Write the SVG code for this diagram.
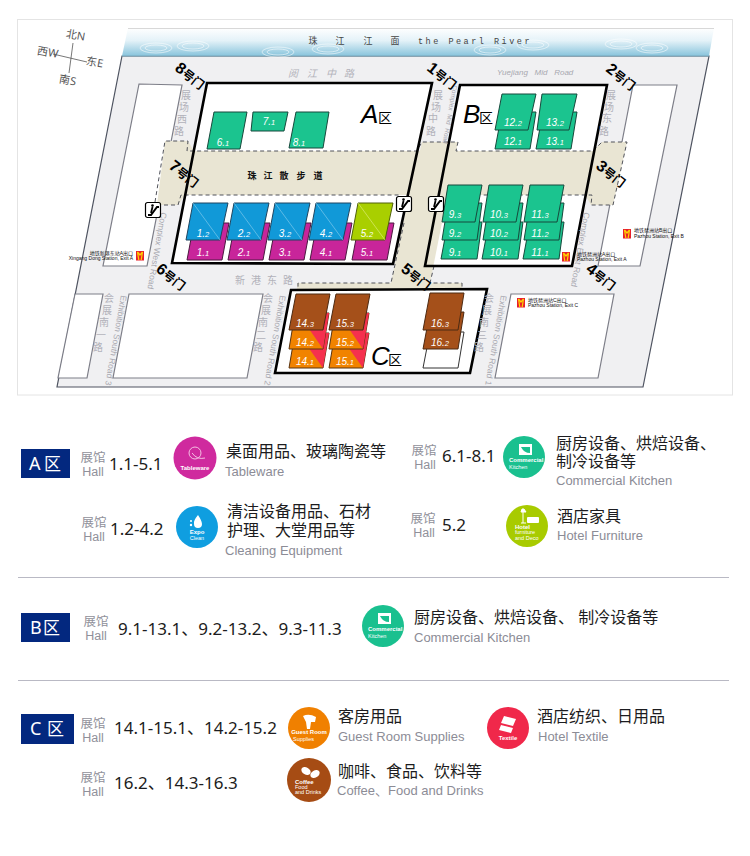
<svg xmlns="http://www.w3.org/2000/svg" xmlns:xlink="http://www.w3.org/1999/xlink" width="750" height="856" viewBox="0 0 750 856">
<style>
text{font-family:"Noto Sans","Noto Sans CJK SC",sans-serif}
.site{fill:#f0f0f2;stroke:#4e5360;stroke-width:1.2}
.blk{fill:#fff;stroke:#7d7e88;stroke-width:1.2}
.bg{fill:#e9e5d3}
.dash{fill:none;stroke:#50525a;stroke-width:1;stroke-dasharray:4 3}
.hall{fill:none;stroke:#000;stroke-width:2.6;stroke-linejoin:miter}
.hf{fill:#fff}
.g{fill:#1bc48f;stroke:#17493c;stroke-width:1}
.b{fill:#1199d8;stroke:#1f4560;stroke-width:1}
.m{fill:#c8259a;stroke:#4c1a40;stroke-width:1}
.l{fill:#a9cf00;stroke:#50600c;stroke-width:1}
.br{fill:#a5501a;stroke:#4d2a12;stroke-width:1}
.o{fill:#f18300;stroke:#5a3410;stroke-width:1}
.r{fill:#f5304e}
.w{fill:#fff;stroke:#333;stroke-width:1}
.diag{stroke:#8fd0ee;stroke-width:.6}
text.bl{font:italic 10px "Liberation Sans",sans-serif;fill:#fff;text-anchor:middle}
.s{font-size:7.5px}
.gate{font-weight:700;fill:#000;text-anchor:middle;font-size:16px;font-family:"Liberation Sans","Noto Sans CJK SC",sans-serif}
.gate tspan{font-size:12px}
.rd{fill:#b2b2ba;font-size:10px;text-anchor:middle}
.rde{fill:#a8a8b0;font:8.5px "Liberation Sans",sans-serif}
.st{fill:#111;font-size:5px;font-family:"Liberation Sans","Noto Sans CJK SC",sans-serif}
.cmp{fill:#555;font-size:11px;text-anchor:middle}
.rv{fill:#444;font-size:9px}
.wk{fill:#111;font-size:9px;font-weight:700;text-anchor:middle}
.tt{font-style:italic;fill:#000;font-family:"Liberation Sans",sans-serif;font-size:26px}
.tz{fill:#000;font-size:14px}
.zb{fill:#03287f}
.zt{fill:#fff;font-size:18px}
.zc{fill:#fff;font-size:17px}
.hc{fill:#90909a;font-size:12.5px;text-anchor:middle}
.he{fill:#90909a;font-size:12.5px;text-anchor:middle;font-family:"Liberation Sans",sans-serif}
.num{fill:#1c1c20;font-size:17px}
.cn{fill:#1c1c20;font-size:16px}
.en{fill:#8c8c96;font-size:13px;font-family:"Liberation Sans","Noto Sans CJK SC",sans-serif}
.ic{fill:#fff;font-family:"Liberation Sans",sans-serif;font-size:6px;font-weight:700}
.in{fill:#fff;font-family:"Liberation Sans",sans-serif;font-size:5.5px}
.div{stroke:#b9b9c4;stroke-width:1}
</style>
<defs>
<linearGradient id="rg" x1="0" y1="0" x2="0" y2="1"><stop offset="0" stop-color="#fff"/><stop offset=".45" stop-color="#e4f2f8"/><stop offset="1" stop-color="#88c4dc"/></linearGradient>
<g id="esc"><rect x=".5" y=".5" width="15" height="15" rx="2" fill="#fff" stroke="#000" stroke-width="1.2"/><path d="M3 13 L6 13 L12 5 L14 5" fill="none" stroke="#000" stroke-width="2"/><circle cx="7.5" cy="3.6" r="1.3" fill="#000"/><path d="M7.5 5 L6 11" stroke="#000" stroke-width="1.8"/></g>
<g id="met"><rect width="8" height="9.500" fill="#e8202a"/><path d="M1.500 1 L2.800 9 M6.500 1 L5.200 9 M1.500 1 L4 4 L6.500 1" fill="none" stroke="#ffd400" stroke-width="1.200"/></g>
<g id="rng"><ellipse rx="16" ry="5" fill="none" stroke="#fff" stroke-opacity=".55"/><ellipse rx="11" ry="3" fill="none" stroke="#fff" stroke-opacity=".55"/></g>
</defs>
<rect width="750" height="856" fill="#fff"/>
<rect x="17.500" y="19.500" width="715" height="375.500" fill="#fff" stroke="#e4e4e4"/>
<g id="site">
<polygon class="site" points="122,56 709,56 643,387 57,387"/>
<polygon points="128,28 714,28 709,56 122,56" fill="url(#rg)"/>
<path d="M128 28.500H714" stroke="#d8d8d8"/>
<path d="M122 56H709" stroke="#78a8bc"/>
<use xlink:href="#rng" x="156" y="48"/><use xlink:href="#rng" x="193" y="46"/><use xlink:href="#rng" x="278" y="52"/><use xlink:href="#rng" x="328" y="49"/><use xlink:href="#rng" x="490" y="50"/><use xlink:href="#rng" x="533" y="45"/><use xlink:href="#rng" x="621" y="44"/><use xlink:href="#rng" x="652" y="48"/>
<text class="rv" x="313" y="44" text-anchor="middle">珠</text><text class="rv" x="340" y="44" text-anchor="middle">江</text><text class="rv" x="368" y="44" text-anchor="middle">江</text><text class="rv" x="395" y="44" text-anchor="middle">面</text>
<text class="rv" x="418" y="44" letter-spacing="2.500" style="font-family:'Liberation Mono',monospace;font-size:8.500px">the Pearl River</text>
<polygon class="blk" points="139,84 182,85 147,266 103,266"/>
<polygon class="blk" points="633,85 677,85 640,266 598,266"/>
<polygon class="blk" points="75,294 103,294 87,378 58,378"/>
<polygon class="blk" points="129,294 263,294 247,378 113,378"/>
<polygon class="blk" points="511,294 614,294 598,378 495,378"/>
</g>
<g id="walkway">
<polygon class="hf" points="207,83 432,83 393,264 172,263"/>
<polygon class="hf" points="460,85 607,85 572,266 425,266"/>
<polygon class="hf" points="291,290 487,289 470,373 275,373"/>
<polygon class="bg" points="165,141 188,141 194,151 185,195 178,205 157,205"/>
<polygon class="bg" points="602,142 627,142 613,205 591,205 585,195 593,151"/>
<polygon class="bg" points="187,151 594,151 586,195 180,195"/>
<polygon class="bg" points="422,142 458,142 430,283 391,283 403,223"/>
<polygon class="bg" points="297,283 462,283 462,290 297,290"/>
<path class="dash" d="M157 205H178L181 195H400M155 202L165 141H188L187 151H417L422 142H458L456 151H593L602 142H627L613 205H591L592 195H482M404 223L391 283H298V289M434 266L430 283H462V288"/>
</g>
<g id="booths">
<g id="hall-6-1"><polygon class="g" points="214,112 247,112 240,149 207,149"/><text class="bl" x="223" y="146">6.<tspan class="s">1</tspan></text></g>
<g id="hall-7-1"><polygon class="g" points="253,112 288,112 284,131 251,131"/><text class="bl" x="269" y="125">7.<tspan class="s">1</tspan></text></g>
<g id="hall-8-1"><polygon class="g" points="296,112 329,112 323,148 289,148"/><text class="bl" x="299" y="146">8.<tspan class="s">1</tspan></text></g>
<g id="hall-1"><polygon class="m" points="194,223 229,223 222,260 187,260"/><polygon class="b" points="193,203 228,203 220,240 186,240"/><line class="diag" x1="193" y1="203" x2="220" y2="240"/><text class="bl" x="203" y="237">1.<tspan class="s">2</tspan></text><text class="bl" x="203" y="256">1.<tspan class="s">1</tspan></text></g>
<g id="hall-2"><polygon class="m" points="235,223 270,223 263,260 228,260"/><polygon class="b" points="234,203 269,203 261,240 227,240"/><line class="diag" x1="234" y1="203" x2="261" y2="240"/><text class="bl" x="244" y="237">2.<tspan class="s">2</tspan></text><text class="bl" x="244" y="256">2.<tspan class="s">1</tspan></text></g>
<g id="hall-3"><polygon class="m" points="276,223 311,223 304,260 269,260"/><polygon class="b" points="275,203 310,203 302,240 268,240"/><line class="diag" x1="275" y1="203" x2="302" y2="240"/><text class="bl" x="285" y="237">3.<tspan class="s">2</tspan></text><text class="bl" x="285" y="256">3.<tspan class="s">1</tspan></text></g>
<g id="hall-4"><polygon class="m" points="317,223 352,223 345,260 310,260"/><polygon class="b" points="316,203 351,203 343,240 309,240"/><line class="diag" x1="316" y1="203" x2="343" y2="240"/><text class="bl" x="326" y="237">4.<tspan class="s">2</tspan></text><text class="bl" x="326" y="256">4.<tspan class="s">1</tspan></text></g>
<g id="hall-5"><polygon class="m" points="359,223 394,223 387,260 352,260"/><polygon class="l" points="358,203 393,203 385,240 351,240"/><line x1="358" y1="203" x2="385" y2="240" stroke="#e4f08a" stroke-width=".6"/><text class="bl" x="367" y="237">5.<tspan class="s">2</tspan></text><text class="bl" x="367" y="256">5.<tspan class="s">1</tspan></text></g>
<g id="hall-12"><polygon class="g" points="502,112 536,112 530,149 495,149"/><polygon class="g" points="502,94 536,94 528,130 495,130"/><text class="bl" x="513" y="126">12.<tspan class="s">2</tspan></text><text class="bl" x="513" y="145">12.<tspan class="s">1</tspan></text></g>
<g id="hall-13"><polygon class="g" points="543,112 577,112 571,149 536,149"/><polygon class="g" points="542,94 577,94 569,130 537,130"/><text class="bl" x="555" y="126">13.<tspan class="s">2</tspan></text><text class="bl" x="555" y="145">13.<tspan class="s">1</tspan></text></g>
<g id="hall-9"><polygon class="g" points="448,222 482,222 477,259 441,259"/><polygon class="g" points="448,203 482,203 477,240 442,240"/><polygon class="g" points="448,185 482,185 475,222 442,222"/><text class="bl" x="455" y="218">9.<tspan class="s">3</tspan></text><text class="bl" x="455" y="237">9.<tspan class="s">2</tspan></text><text class="bl" x="455" y="256">9.<tspan class="s">1</tspan></text></g>
<g id="hall-10"><polygon class="g" points="489,222 523,222 518,259 482,259"/><polygon class="g" points="489,203 523,203 518,240 483,240"/><polygon class="g" points="489,185 523,185 516,222 483,222"/><text class="bl" x="499" y="218">10.<tspan class="s">3</tspan></text><text class="bl" x="499" y="237">10.<tspan class="s">2</tspan></text><text class="bl" x="499" y="256">10.<tspan class="s">1</tspan></text></g>
<g id="hall-11"><polygon class="g" points="530,222 564,222 559,259 523,259"/><polygon class="g" points="530,203 564,203 559,240 524,240"/><polygon class="g" points="530,185 564,185 557,222 524,222"/><text class="bl" x="540" y="218">11.<tspan class="s">3</tspan></text><text class="bl" x="540" y="237">11.<tspan class="s">2</tspan></text><text class="bl" x="540" y="256">11.<tspan class="s">1</tspan></text></g>
<g id="hall-14"><polygon class="o" points="295,333 329,333 323,368 289,368"/><polygon class="r" points="298,333 329,333 323,368"/><polygon class="o" points="295,313 329,313 323,349 289,349"/><polygon class="r" points="298,313 329,313 323,349"/><polygon class="br" points="296,294 330,294 323,330 289,330"/><text class="bl" x="305" y="327">14.<tspan class="s">3</tspan></text><text class="bl" x="305" y="346">14.<tspan class="s">2</tspan></text><text class="bl" x="305" y="365">14.<tspan class="s">1</tspan></text></g>
<g id="hall-15"><polygon class="o" points="335,333 369,333 363,368 329,368"/><polygon class="r" points="338,333 369,333 363,368"/><polygon class="o" points="335,313 369,313 363,349 329,349"/><polygon class="r" points="338,313 369,313 363,349"/><polygon class="br" points="336,294 370,294 363,330 329,330"/><text class="bl" x="345" y="327">15.<tspan class="s">3</tspan></text><text class="bl" x="345" y="346">15.<tspan class="s">2</tspan></text><text class="bl" x="345" y="365">15.<tspan class="s">1</tspan></text></g>
<g id="hall-16"><polygon class="w" points="430,332 464,332 458,368 423,368"/><polygon class="br" points="430,312 464,312 458,349 423,349"/><polygon class="br" points="430,293 464,293 458,330 423,330"/><text class="bl" x="440" y="327">16.<tspan class="s">3</tspan></text><text class="bl" x="440" y="346">16.<tspan class="s">2</tspan></text></g>
</g>
<g id="halls">
<polygon class="hall" points="207,83 432,83 393,264 172,263"/>
<polygon class="hall" points="460,85 607,85 572,266 425,266"/>
<polygon class="hall" points="291,290 487,289 470,373 275,373"/>
<text class="tt" x="361" y="123">A</text><text class="tz" x="378" y="123">区</text>
<text class="tt" x="463" y="123">B</text><text class="tz" x="479" y="123">区</text>
<text class="tt" x="371" y="365">C</text><text class="tz" x="388" y="365">区</text>
<text class="wk" x="252" y="179">珠</text><text class="wk" x="268" y="179">江</text><text class="wk" x="284" y="179">散</text><text class="wk" x="301" y="179">步</text><text class="wk" x="318" y="179">道</text>
</g>
<g id="roads">
<text class="rd" x="293" y="77" font-style="italic">阅</text><text class="rd" x="312" y="77" font-style="italic">江</text><text class="rd" x="331" y="77" font-style="italic">中</text><text class="rd" x="349" y="77" font-style="italic">路</text>
<text class="rde" x="497" y="75" style="font-style:italic;font-size:8px" word-spacing="4.500">Yuejiang Mid Road</text>
<text class="rd" x="186" y="99">展</text><text class="rd" x="184" y="111">场</text><text class="rd" x="182" y="123">西</text><text class="rd" x="179" y="135">路</text>
<text class="rd" x="438" y="99">展</text><text class="rd" x="436" y="111">场</text><text class="rd" x="433" y="122">中</text><text class="rd" x="431" y="135">路</text>
<text class="rd" x="611" y="99">展</text><text class="rd" x="609" y="111">场</text><text class="rd" x="607" y="122">东</text><text class="rd" x="604" y="135">路</text>
<text class="rd" x="240" y="284">新</text><text class="rd" x="256" y="284">港</text><text class="rd" x="272" y="284">东</text><text class="rd" x="288" y="284">路</text>
<text class="rd" x="109" y="302">会</text><text class="rd" x="107" y="314">展</text><text class="rd" x="104" y="326">南</text><text class="rd" x="101" y="339">一</text><text class="rd" x="98" y="351">路</text>
<text class="rd" x="268" y="302">会</text><text class="rd" x="266" y="314">展</text><text class="rd" x="263" y="326">南</text><text class="rd" x="261" y="339">二</text><text class="rd" x="258" y="351">路</text>
<text class="rd" x="489" y="302">会</text><text class="rd" x="487" y="314">展</text><text class="rd" x="484" y="326">南</text><text class="rd" x="482" y="339">三</text><text class="rd" x="479" y="351">路</text>
<text class="rde" transform="translate(121,295) rotate(100)">Exhibition South Road 3</text>
<text class="rde" transform="translate(280,295) rotate(100)">Exhibition South Road 2</text>
<text class="rde" transform="translate(501,295) rotate(100)">Exhibition South Road 1</text>
<text class="rde" transform="translate(161,212) rotate(100)">Complex West Road</text>
<text class="rde" transform="translate(584,212) rotate(100)">Complex East Road</text>
<text class="rde" transform="translate(453,85) rotate(100)" style="font-size:6.500px" word-spacing="2">Complex Mid Road</text>
</g>
<g id="gates">
<text class="gate" transform="translate(187,80) rotate(38)">8<tspan>号门</tspan></text>
<text class="gate" transform="translate(439,80) rotate(38)">1<tspan>号门</tspan></text>
<text class="gate" transform="translate(618,81) rotate(38)">2<tspan>号门</tspan></text>
<text class="gate" transform="translate(608,178) rotate(38)">3<tspan>号门</tspan></text>
<text class="gate" transform="translate(598,281) rotate(38)">4<tspan>号门</tspan></text>
<text class="gate" transform="translate(413,281) rotate(38)">5<tspan>号门</tspan></text>
<text class="gate" transform="translate(168,281) rotate(38)">6<tspan>号门</tspan></text>
<text class="gate" transform="translate(181,178) rotate(38)">7<tspan>号门</tspan></text>
</g>
<g id="escalators"><use xlink:href="#esc" x="145" y="202"/><use xlink:href="#esc" x="396" y="196"/><use xlink:href="#esc" x="428" y="196"/></g>
<g id="metro">
<use xlink:href="#met" x="136" y="251"/><text class="st" x="133" y="255" text-anchor="end">地铁新港东站A出口</text><text class="st" x="133" y="260" text-anchor="end">Xingang Dong Station, Exit A</text>
<use xlink:href="#met" x="562" y="252"/><text class="st" x="577" y="256">地铁琶洲站A出口</text><text class="st" x="577" y="261">Pazhou Station, Exit A</text>
<use xlink:href="#met" x="623" y="229"/><text class="st" x="634" y="232">地铁琶洲站B出口</text><text class="st" x="634" y="238">Pazhou Station, Exit B</text>
<use xlink:href="#met" x="517" y="298"/><text class="st" x="528" y="302">地铁琶洲站C出口</text><text class="st" x="528" y="307">Pazhou Station, Exit C</text>
</g>
<g id="compass">
<path d="M73 43L69 73M53 54L87 62" stroke="#555" stroke-width=".8" fill="none"/>
<text class="cmp" transform="translate(75,39) rotate(10)">北N</text>
<text class="cmp" transform="translate(47,56) rotate(10)">西W</text>
<text class="cmp" transform="translate(94,66) rotate(10)">东E</text>
<text class="cmp" transform="translate(67,84) rotate(10)">南S</text>
</g>
<g id="legend-a">
<rect class="zb" x="21" y="449" width="49" height="29"/><text class="zt" x="29" y="470">A</text><text class="zc" x="44" y="470">区</text>
<text class="hc" x="93" y="462">展馆</text><text class="he" x="93" y="476">Hall</text><text class="num" x="109" y="470">1.1-5.1</text>
<g id="icon-tableware"><circle cx="195" cy="458" r="21.500" fill="#cf2a9e"/><circle cx="195" cy="453" r="6" fill="none" stroke="#f3bfe2"/><path d="M192 453Q197 460 205 458" fill="none" stroke="#f3bfe2"/><text class="ic" x="195" y="470" text-anchor="middle">Tableware</text></g>
<text class="cn" x="226" y="457">桌面用品、玻璃陶瓷等</text><text class="en" x="225" y="476">Tableware</text>
<text class="hc" x="94" y="527">展馆</text><text class="he" x="94" y="541">Hall</text><text class="num" x="110" y="535">1.2-4.2</text>
<g id="icon-clean"><circle cx="197" cy="527" r="21" fill="#0f9ee0"/><path d="M198 515Q193 521 194 524A4 4 0 0 0 202 524Q202 521 198 515Z" fill="#fff"/><circle cx="191" cy="521" r="1" fill="#fff"/><circle cx="191" cy="525" r="1.200" fill="#fff"/><text class="ic" x="197" y="534" text-anchor="middle">Expo</text><text class="in" x="197" y="540" text-anchor="middle">Clean</text></g>
<text class="cn" x="227" y="517">清洁设备用品、石材</text><text class="cn" x="227" y="536">护理、大堂用品等</text><text class="en" x="225" y="555">Cleaning Equipment</text>
<text class="hc" x="424" y="455">展馆</text><text class="he" x="425" y="469">Hall</text><text class="num" x="442" y="462">6.1-8.1</text>
<g id="icon-kitchen-a"><circle cx="524" cy="457" r="21" fill="#1ac08f"/><rect x="519" y="444" width="13" height="11" fill="#fff"/><path d="M521 447H530V453Q524 453 521 447Z" fill="#1ac08f"/><text class="ic" x="509" y="462">Commercial</text><text class="in" x="509" y="469">Kitchen</text></g>
<text class="cn" x="556" y="449">厨房设备、烘焙设备、</text><text class="cn" x="556" y="467">制冷设备等</text><text class="en" x="556" y="485">Commercial Kitchen</text>
<text class="hc" x="423" y="523">展馆</text><text class="he" x="424" y="537">Hall</text><text class="num" x="442" y="531">5.2</text>
<g id="icon-hotel"><circle cx="527" cy="526" r="21" fill="#a8cb00"/><path d="M523 511V523M521 512H526L524 509H522Z M521 523H526" stroke="#fff" fill="#fff"/><rect x="527" y="517" width="12" height="6" rx="1" fill="#fff"/><text class="ic" x="515" y="529">Hotel</text><text class="in" x="515" y="534">furniture</text><text class="in" x="515" y="540">and Deco</text></g>
<text class="cn" x="557" y="522">酒店家具</text><text class="en" x="557" y="540">Hotel Furniture</text>
</g>
<line class="div" x1="18" y1="577.500" x2="729" y2="577.500"/>
<g id="legend-b">
<rect class="zb" x="21" y="613" width="49" height="29"/><text class="zt" x="30" y="634">B</text><text class="zc" x="43" y="634">区</text>
<text class="hc" x="96" y="626">展馆</text><text class="he" x="96" y="640">Hall</text><text class="num" x="118" y="635">9.1-13.1、9.2-13.2、9.3-11.3</text>
<g id="icon-kitchen-b"><circle cx="383" cy="626" r="21" fill="#1ac08f"/><rect x="378" y="613" width="13" height="11" fill="#fff"/><path d="M380 616H389V622Q383 622 380 616Z" fill="#1ac08f"/><text class="ic" x="368" y="631">Commercial</text><text class="in" x="368" y="638">Kitchen</text></g>
<text class="cn" x="414" y="623">厨房设备、烘焙设备、 制冷设备等</text><text class="en" x="414" y="642">Commercial Kitchen</text>
</g>
<line class="div" x1="18" y1="680.500" x2="729" y2="680.500"/>
<g id="legend-c">
<rect class="zb" x="21" y="714" width="53" height="30"/><text class="zt" x="30" y="735">C</text><text class="zc" x="47" y="735">区</text>
<text class="hc" x="93" y="728">展馆</text><text class="he" x="93" y="742">Hall</text><text class="num" x="114" y="734">14.1-15.1、14.2-15.2</text>
<g id="icon-guest"><circle cx="309" cy="728" r="21" fill="#f08000"/><path d="M303 716Q309 713 316 717L315 722L311 722L310 729L307 729L306 722Z" fill="#fff"/><text class="ic" x="309" y="734" text-anchor="middle">Guest Room</text><text class="in" x="293" y="741">Supplies</text></g>
<text class="cn" x="338" y="722">客房用品</text><text class="en" x="338" y="741">Guest Room Supplies</text>
<g id="icon-textile"><circle cx="508" cy="728" r="21" fill="#f0284a"/><path d="M504 716L516 719L513 726L501 723ZM501 725L513 728L511 733L499 730Z" fill="#fff"/><text class="ic" x="508" y="740" text-anchor="middle">Textile</text></g>
<text class="cn" x="537" y="722">酒店纺织、日用品</text><text class="en" x="538" y="741">Hotel Textile</text>
<text class="hc" x="93" y="782">展馆</text><text class="he" x="93" y="796">Hall</text><text class="num" x="114" y="789">16.2、14.3-16.3</text>
<g id="icon-coffee"><circle cx="309" cy="780" r="22" fill="#a64c14"/><ellipse cx="306" cy="771" rx="5" ry="3.500" fill="#fff" transform="rotate(30 306 771)"/><ellipse cx="315" cy="774" rx="5" ry="3.500" fill="#fff" transform="rotate(-30 315 774)"/><text class="ic" x="295" y="784">Coffee</text><text class="in" x="295" y="789">Food</text><text class="in" x="295" y="794">and Drinks</text></g>
<text class="cn" x="338" y="777">咖啡、食品、饮料等</text><text class="en" x="337" y="795">Coffee、Food and Drinks</text>
</g>
</svg>
